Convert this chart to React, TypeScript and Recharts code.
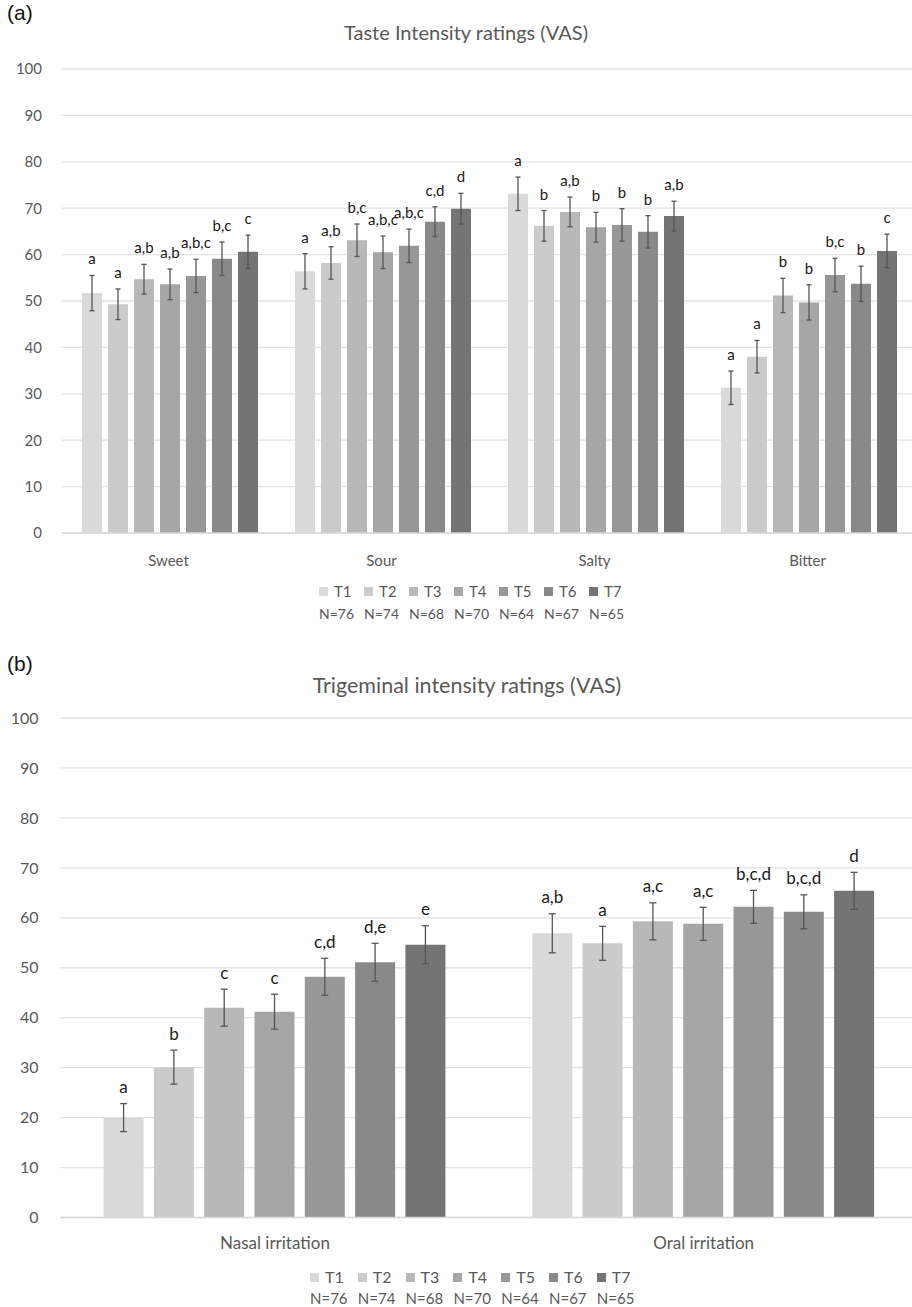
import React from 'react';
import { BarChart, Bar, XAxis, YAxis, CartesianGrid, ErrorBar, LabelList } from 'recharts';

const seriesNames = ['T1', 'T2', 'T3', 'T4', 'T5', 'T6', 'T7'];
const seriesN = ['N=76', 'N=74', 'N=68', 'N=70', 'N=64', 'N=67', 'N=65'];
const seriesColors = ['#d9d9d9', '#cbcbcb', '#b8b8b8', '#a6a6a6', '#979797', '#898989', '#747474'];
const yTicks = [0, 10, 20, 30, 40, 50, 60, 70, 80, 90, 100];

// (a) Taste intensity
const tasteCategories = ['Sweet', 'Sour', 'Salty', 'Bitter'];
const sweetMeans = [51.7, 49.3, 54.7, 53.6, 55.4, 59.1, 60.6];
const sweetErr = [3.8, 3.3, 3.2, 3.3, 3.6, 3.6, 3.6];
const sweetLetters = ['a', 'a', 'a,b', 'a,b', 'a,b,c', 'b,c', 'c'];
const sourMeans = [56.4, 58.2, 63.1, 60.5, 61.9, 67.1, 69.9];
const sourErr = [3.8, 3.5, 3.5, 3.5, 3.6, 3.2, 3.3];
const sourLetters = ['a', 'a,b', 'b,c', 'a,b,c', 'a,b,c', 'c,d', 'd'];
const saltyMeans = [73.1, 66.2, 69.2, 65.9, 66.4, 64.9, 68.3];
const saltyErr = [3.6, 3.3, 3.2, 3.2, 3.5, 3.5, 3.2];
const saltyLetters = ['a', 'b', 'a,b', 'b', 'b', 'b', 'a,b'];
const bitterMeans = [31.3, 38.0, 51.2, 49.7, 55.6, 53.7, 60.8];
const bitterErr = [3.6, 3.5, 3.7, 3.8, 3.6, 3.8, 3.6];
const bitterLetters = ['a', 'a', 'b', 'b', 'b,c', 'b', 'c'];

// (b) Trigeminal intensity
const trigCategories = ['Nasal irritation', 'Oral irritation'];
const nasalMeans = [20.0, 30.1, 42.0, 41.2, 48.2, 51.1, 54.6];
const nasalErr = [2.8, 3.4, 3.7, 3.5, 3.7, 3.8, 3.8];
const nasalLetters = ['a', 'b', 'c', 'c', 'c,d', 'd,e', 'e'];
const oralMeans = [56.9, 54.9, 59.3, 58.8, 62.2, 61.2, 65.4];
const oralErr = [3.9, 3.4, 3.7, 3.3, 3.3, 3.4, 3.7];
const oralLetters = ['a,b', 'a', 'a,c', 'a,c', 'b,c,d', 'b,c,d', 'd'];

type Row = Record<string, string | number>;

function buildRows(categories: string[], means: number[][], errs: number[][], letters: string[][]): Row[] {
  return categories.map((c, ci) => {
    const row: Row = { category: c };
    seriesNames.forEach((s, si) => {
      row[s] = means[ci][si];
      row[s + 'err'] = errs[ci][si];
      row[s + 'lab'] = letters[ci][si];
    });
    return row;
  });
}

const tasteRows = buildRows(
  tasteCategories,
  [sweetMeans, sourMeans, saltyMeans, bitterMeans],
  [sweetErr, sourErr, saltyErr, bitterErr],
  [sweetLetters, sourLetters, saltyLetters, bitterLetters]
);
const trigRows = buildRows(
  trigCategories,
  [nasalMeans, oralMeans],
  [nasalErr, oralErr],
  [nasalLetters, oralLetters]
);

const FONT = 'Lato, "Open Sans", sans-serif';
const GREY = '#595959';

function makeLabel(rows: Row[], key: string, fontSize: number, gap: number) {
  return (props: any) => {
    const { x, y, width, height, index, value } = props;
    const row = rows[index];
    const v = Number(row[key]);
    const e = Number(row[key + 'err']);
    const ppu = Number(height) / v;
    const cy = Number(y) - e * ppu - gap;
    return (
      <text
        x={Number(x) + Number(width) / 2}
        y={cy}
        textAnchor="middle"
        dominantBaseline="central"
        fontSize={fontSize}
        fill="#1a1a1a"
        fontFamily={FONT}
      >
        {value}
      </text>
    );
  };
}

function Legend2({ row1, row2, left, pitch, tSize, nSize }: { row1: number; row2: number; left: number; pitch: number; tSize: number; nSize: number }) {
  return (
    <>
      {seriesNames.map((s, i) => (
        <React.Fragment key={s}>
          <div
            style={{
              position: 'absolute',
              left: left + pitch * i,
              top: row1 - 9,
              height: 18,
              display: 'flex',
              alignItems: 'center',
              whiteSpace: 'nowrap',
              fontFamily: FONT,
              color: GREY,
            }}
          >
            <span style={{ display: 'inline-block', width: 9, height: 9, background: seriesColors[i], marginRight: 6 }} />
            <span style={{ fontSize: tSize, lineHeight: '18px' }}>{s}</span>
          </div>
          <div
            style={{
              position: 'absolute',
              left: left + pitch * i,
              top: row2 - 7,
              height: 14,
              lineHeight: '14px',
              fontSize: nSize,
              whiteSpace: 'nowrap',
              fontFamily: FONT,
              color: GREY,
            }}
          >
            {seriesN[i]}
          </div>
        </React.Fragment>
      ))}
    </>
  );
}

function renderBars(rows: Row[], labelSize: number, labelGap: number, capW: number) {
  return seriesNames.map((s, i) => (
    <Bar key={s} dataKey={s} fill={seriesColors[i]} isAnimationActive={false}>
      <ErrorBar dataKey={s + 'err'} width={capW} stroke="#555555" strokeWidth={1.3} />
      <LabelList dataKey={s + 'lab'} content={makeLabel(rows, s, labelSize, labelGap)} />
    </Bar>
  ));
}

export default function App() {
  return (
    <div style={{ position: 'absolute', left: 0, top: 0, width: 912, height: 1307, overflow: 'hidden', background: '#fff' }}>
      {/* Panel (a) */}
      <div style={{ position: 'absolute', left: 7, top: 1, fontFamily: '"Liberation Sans", Arial, sans-serif', fontSize: 21, color: '#111' }}>(a)</div>
      <div style={{ position: 'absolute', left: 0, width: 932, top: 20, textAlign: 'center', fontFamily: FONT, fontSize: 20, color: GREY }}>
        Taste Intensity ratings (VAS)
      </div>
      <div style={{ position: 'absolute', left: 0, top: 0 }}>
        <BarChart
          width={914}
          height={600}
          data={tasteRows}
          margin={{ top: 69, right: 0, left: 0, bottom: 0 }}
          barCategoryGap={20}
          barGap={6}
        >
          <CartesianGrid vertical={false} stroke="#e2e2e2" strokeWidth={1.3} />
          <XAxis
            dataKey="category"
            height={67}
            axisLine={{ stroke: '#d9d9d9', strokeWidth: 1.3 }}
            tickLine={false}
            tickMargin={16}
            tick={{ fill: GREY, fontSize: 15, fontFamily: FONT }}
          />
          <YAxis
            width={62}
            domain={[0, 100]}
            ticks={yTicks}
            interval={0}
            axisLine={false}
            tickLine={false}
            tickMargin={14}
            tick={{ fill: GREY, fontSize: 15, fontFamily: FONT }}
          />
          {renderBars(tasteRows, 15, 17, 2.5)}
        </BarChart>
      </div>
      <Legend2 row1={591} row2={614} left={319} pitch={45} tSize={15} nSize={14} />

      {/* Panel (b) */}
      <div style={{ position: 'absolute', left: 7, top: 652, fontFamily: '"Liberation Sans", Arial, sans-serif', fontSize: 21, color: '#111' }}>(b)</div>
      <div style={{ position: 'absolute', left: 0, width: 934, top: 672, textAlign: 'center', fontFamily: FONT, fontSize: 21.5, color: GREY }}>
        Trigeminal intensity ratings (VAS)
      </div>
      <div style={{ position: 'absolute', left: 0, top: 640 }}>
        <BarChart
          width={920}
          height={640}
          data={trigRows}
          margin={{ top: 78, right: 2, left: 0, bottom: 0 }}
          barCategoryGap={43}
          barGap={10.3}
        >
          <CartesianGrid vertical={false} stroke="#e2e2e2" strokeWidth={1.3} />
          <XAxis
            dataKey="category"
            height={62.5}
            axisLine={{ stroke: '#d9d9d9', strokeWidth: 1.3 }}
            tickLine={false}
            tickMargin={13}
            tick={{ fill: GREY, fontSize: 17, fontFamily: FONT }}
          />
          <YAxis
            width={60.6}
            domain={[0, 100]}
            ticks={yTicks}
            interval={0}
            axisLine={false}
            tickLine={false}
            tickMargin={16}
            tick={{ fill: GREY, fontSize: 16, fontFamily: FONT }}
          />
          {renderBars(trigRows, 17, 17, 3.5)}
        </BarChart>
      </div>
      <Legend2 row1={1277} row2={1298} left={310} pitch={47.8} tSize={16} nSize={15} />
    </div>
  );
}
